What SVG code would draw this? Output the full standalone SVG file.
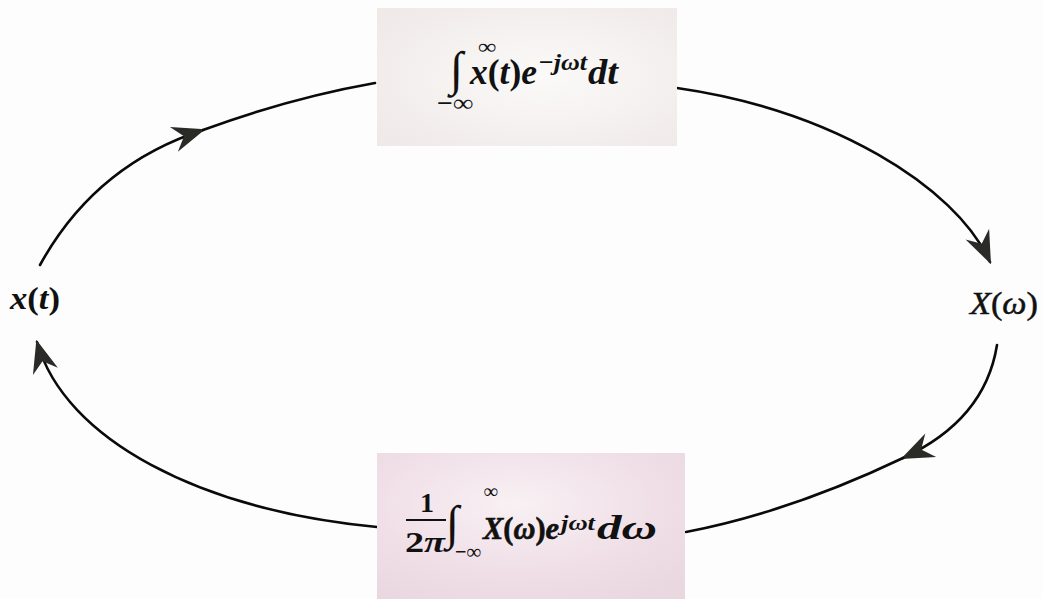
<svg xmlns="http://www.w3.org/2000/svg" width="1043" height="599" viewBox="0 0 1043 599">
  <style>
    .m { font-family: "Liberation Serif", "Times New Roman", serif; fill: #111; }
    .bi { font-weight: bold; font-style: italic; }
    .b { font-weight: bold; }
    .it { font-style: italic; }
    .conn { fill: none; stroke: #0a0a0a; stroke-width: 2.6; stroke-linecap: round; }
  </style>
  <defs>
    <marker id="arr" markerUnits="userSpaceOnUse" markerWidth="40" markerHeight="40" viewBox="-30 -15 34 30" refX="0" refY="0" orient="auto">
      <path d="M2,0 L-26,-11 L-17,0 L-26,11 Z" fill="#2a2a26"/>
    </marker>
    <radialGradient id="gTop" cx="0.55" cy="0.5" r="0.7">
      <stop offset="0" stop-color="#fbfaf8"/>
      <stop offset="1" stop-color="#efe9e8"/>
    </radialGradient>
    <radialGradient id="gBot" cx="0.45" cy="0.35" r="0.75">
      <stop offset="0" stop-color="#f8f1f4"/>
      <stop offset="0.6" stop-color="#f0dfe7"/>
      <stop offset="1" stop-color="#ead8e0"/>
    </radialGradient>
  </defs>
  <rect width="1043" height="599" fill="#fdfdfd"/>

  <g id="connectors">
    <path class="conn" d="M40,265 Q95,165 203,130" marker-end="url(#arr)"/>
    <path class="conn" d="M203,130 Q290,98 375,83"/>
    <path class="conn" d="M677,88 C830,110 955,185 990,262" marker-end="url(#arr)"/>
    <path class="conn" d="M997,345 Q985,420 903,458" marker-end="url(#arr)"/>
    <path class="conn" d="M903,458 Q790,512 686,532"/>
    <path class="conn" d="M377,527 C200,510 65,440 37,342" marker-end="url(#arr)"/>
  </g>

  <g id="node-forward">
    <rect x="377" y="8" width="300" height="138" fill="url(#gTop)"/>
    <text class="m b" x="450" y="85" font-size="48">∫</text>
    <text class="m b" x="478" y="54" font-size="22" textLength="18" lengthAdjust="spacingAndGlyphs">∞</text>
    <text class="m b" x="437" y="111" font-size="24" textLength="36" lengthAdjust="spacingAndGlyphs">−∞</text>
    <text class="m bi" x="470" y="84" font-size="36" textLength="67" lengthAdjust="spacingAndGlyphs">x<tspan font-style="normal">(</tspan>t<tspan font-style="normal">)</tspan>e</text>
    <text class="m bi" x="538" y="70" font-size="24" textLength="49" lengthAdjust="spacingAndGlyphs">−jωt</text>
    <text class="m bi" x="588" y="84" font-size="36" textLength="30" lengthAdjust="spacingAndGlyphs">dt</text>
  </g>

  <g id="node-inverse">
    <rect x="377" y="453" width="308" height="146" fill="url(#gBot)"/>
    <text class="m b" x="427" y="512" font-size="28" text-anchor="middle">1</text>
    <line x1="406" y1="520" x2="446" y2="520" stroke="#111" stroke-width="2"/>
    <text class="m b" x="405" y="552" font-size="30" textLength="40" lengthAdjust="spacingAndGlyphs">2<tspan font-style="italic">π</tspan></text>
    <text class="m b" x="446" y="539" font-size="48">∫</text>
    <text class="m b" x="484" y="498" font-size="20" textLength="14" lengthAdjust="spacingAndGlyphs">∞</text>
    <text class="m b" x="455" y="559" font-size="22" textLength="26" lengthAdjust="spacingAndGlyphs">−∞</text>
    <text class="m bi" x="483" y="539" font-size="31" textLength="76" lengthAdjust="spacingAndGlyphs" stroke="#111" stroke-width="0.6">X<tspan font-style="normal">(</tspan>ω<tspan font-style="normal">)</tspan>e</text>
    <text class="m bi" x="561" y="530" font-size="20" textLength="34" lengthAdjust="spacingAndGlyphs">jωt</text>
    <text class="m bi" x="597" y="539" font-size="33" textLength="60" lengthAdjust="spacingAndGlyphs">dω</text>
  </g>

  <g id="node-xt">
    <text class="m bi" x="10" y="309" font-size="32" textLength="50" lengthAdjust="spacingAndGlyphs">x<tspan font-style="normal">(</tspan>t<tspan font-style="normal">)</tspan></text>
  </g>

  <g id="node-Xw">
    <text class="m it" x="970" y="314" font-size="32" textLength="68" lengthAdjust="spacingAndGlyphs" stroke="#111" stroke-width="0.5">X<tspan font-style="normal">(</tspan>ω<tspan font-style="normal">)</tspan></text>
  </g>
</svg>
